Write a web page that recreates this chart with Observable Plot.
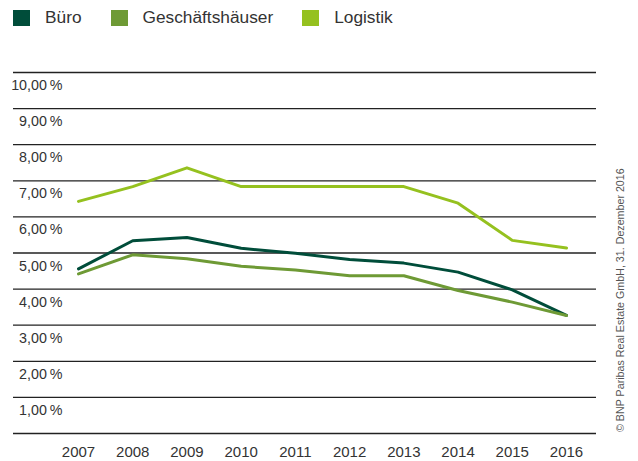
<!DOCTYPE html>
<html>
<head>
<meta charset="utf-8">
<script src="https://cdn.jsdelivr.net/npm/d3@7"></script>
<script src="https://cdn.jsdelivr.net/npm/@observablehq/plot@0.6"></script>
<style>
  html, body { margin: 0; padding: 0; background: #fff; }
  #wrap { position: relative; width: 638px; height: 461px; font-family: "Liberation Sans", Arial, sans-serif; color: #333; }
  #legend { position: absolute; left: 13px; top: 9px; display: flex; align-items: center; height: 17px; }
  .item { display: flex; align-items: center; margin-right: 29px; font-size: 17.3px; line-height: 17px; }
  .sw { width: 17px; height: 16px; margin-right: 15px; }
  #chart { position: absolute; left: 0; top: 36px; }
  #caption { position: absolute; left: 614px; top: 432px; transform-origin: 0 0; transform: rotate(-90deg);
    font-size: 10.7px; line-height: 12px; white-space: nowrap; color: #555; }
</style>
</head>
<body>
<div id="wrap">
  <div id="legend"></div>
  <div id="chart"></div>
  <div id="caption">© BNP Paribas Real Estate GmbH, 31. Dezember 2016</div>
</div>
<script>
const years = [2007, 2008, 2009, 2010, 2011, 2012, 2013, 2014, 2015, 2016];
const seriesNames = ["Büro", "Geschäftshäuser", "Logistik"];
const seriesColors = ["#004d3a", "#6e9a35", "#95c11f"];
const buero = [4.56, 5.34, 5.43, 5.13, 4.99, 4.82, 4.72, 4.47, 3.98, 3.27];
const geschaefte = [4.42, 4.95, 4.84, 4.63, 4.53, 4.37, 4.37, 3.96, 3.64, 3.27];
const logistik = [6.43, 6.84, 7.36, 6.84, 6.84, 6.84, 6.84, 6.38, 5.35, 5.14];
const gridValues = [0, 1, 2, 3, 4, 5, 6, 7, 8, 9, 10];
const yTickValues = [1, 2, 3, 4, 5, 6, 7, 8, 9, 10];

const seriesValues = [buero, geschaefte, logistik];
const data = [];
seriesNames.forEach((name, s) => {
  years.forEach((yr, i) => data.push({ series: name, year: yr, value: seriesValues[s][i] }));
});

const legend = document.getElementById("legend");
seriesNames.forEach((name, i) => {
  const it = document.createElement("div");
  it.className = "item";
  const sw = document.createElement("div");
  sw.className = "sw";
  sw.style.background = seriesColors[i];
  const tx = document.createElement("span");
  tx.textContent = name;
  it.appendChild(sw);
  it.appendChild(tx);
  legend.appendChild(it);
});

const fmt = v => v.toFixed(2).replace(".", ",") + "\u2009%";

const chart = Plot.plot({
  width: 638,
  height: 425,
  marginTop: 36,
  marginBottom: 28,
  marginLeft: 13,
  marginRight: 42,
  style: { fontFamily: "Liberation Sans, Arial, sans-serif", fontSize: "15px", color: "#333", background: "#fff" },
  x: { domain: [2007, 2016], insetLeft: 65, insetRight: 30 },
  y: { domain: [0, 10] },
  color: { domain: seriesNames, range: seriesColors },
  marks: [
    Plot.ruleY(gridValues, { stroke: "#222", strokeWidth: 1.3 }),
    Plot.axisY(yTickValues, { tickSize: 0, tickPadding: 0, textAnchor: "end", dx: 49, dy: 13, tickFormat: fmt, label: null, fill: "#333", fontSize: 14.3 }),
    Plot.axisX(years, { tickSize: 0, tickPadding: 13, tickFormat: d => String(d), label: null, fill: "#333", fontSize: 15 }),
    Plot.line(data, { x: "year", y: "value", z: "series", stroke: "series", strokeWidth: 3 })
  ]
});
document.getElementById("chart").appendChild(chart);
</script>
</body>
</html>
